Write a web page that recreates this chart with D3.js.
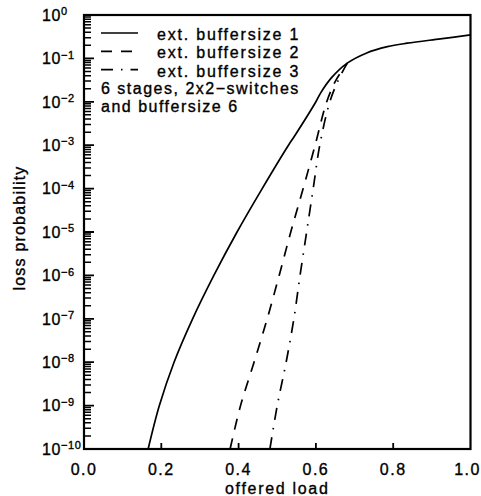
<!DOCTYPE html>
<html>
<head>
<meta charset="utf-8">
<script src="https://cdn.jsdelivr.net/npm/d3@7"></script>
<style>
  body { margin: 0; background: #fff; }
  svg text { font-family: "Liberation Sans", Arial, sans-serif; fill: #000; stroke: #000; stroke-width: 0.35px; }
</style>
</head>
<body>
<svg width="481" height="496"></svg>
<script>
// values: offered load vs. log10(loss probability)
var loadBuf1 = [0.166, 0.195, 0.233, 0.281, 0.336, 0.396, 0.461, 0.529, 0.544, 0.6, 0.612, 0.64, 0.681, 0.73, 0.785, 0.836, 0.922, 1.0];
var logBuf1 = [-10, -9, -8, -7, -6, -5, -4, -3, -2.8, -2, -1.8, -1.45, -1.11, -0.88, -0.73, -0.65, -0.55, -0.46];

var loadBuf2 = [0.378, 0.405, 0.44, 0.474, 0.505, 0.535, 0.567, 0.598, 0.628, 0.652, 0.681];
var logBuf2 = [-10, -9, -8, -7, -6, -5, -4, -3, -2, -1.5, -1.11];

var loadBuf3 = [0.481, 0.5, 0.523, 0.543, 0.559, 0.576, 0.593, 0.61, 0.636, 0.658, 0.681];
var logBuf3 = [-10, -9, -8, -7, -6, -5, -4, -3, -2, -1.5, -1.11];

var xTicks = [0.0, 0.2, 0.4, 0.6, 0.8, 1.0];
var yExponents = [0, -1, -2, -3, -4, -5, -6, -7, -8, -9, -10];

var legendLabels = ['ext. buffersize 1', 'ext. buffersize 2', 'ext. buffersize 3'];
var noteLines = ['6 stages, 2x2\u2212switches', 'and buffersize 6'];

var margin = { top: 15, right: 10.5, bottom: 47, left: 84 };
var width = 481 - margin.left - margin.right;
var height = 496 - margin.top - margin.bottom;

var svg = d3.select('svg');
var g = svg.append('g').attr('transform', 'translate(' + margin.left + ',' + margin.top + ')');

var x = d3.scaleLinear().domain([0, 1]).range([0, width]);
var y = d3.scaleLog().domain([1e-10, 1]).range([height, 0]);

// frame
g.append('rect')
  .attr('x', 0).attr('y', 0)
  .attr('width', width).attr('height', height)
  .attr('fill', 'none')
  .attr('stroke', '#000')
  .attr('stroke-width', 2.2);

// minor log ticks 2..9 in every decade, pointing inward
var minorTicks = [];
for (var e = -10; e < 0; e++) {
  for (var m = 2; m <= 9; m++) minorTicks.push(m * Math.pow(10, e));
}
var majorTicks = yExponents.map(function (p) { return Math.pow(10, p); });

var tickPath = d3.path();
minorTicks.forEach(function (d) {
  tickPath.moveTo(0, y(d));
  tickPath.lineTo(7, y(d));
});
g.append('path')
  .attr('d', tickPath.toString())
  .attr('fill', 'none')
  .attr('stroke', '#000')
  .attr('stroke-width', 1.5);

var majorPath = d3.path();
majorTicks.forEach(function (d) {
  majorPath.moveTo(0, y(d));
  majorPath.lineTo(10, y(d));
});
xTicks.slice(1, -1).forEach(function (d) {
  majorPath.moveTo(x(d), height);
  majorPath.lineTo(x(d), height - 6);
});
g.append('path')
  .attr('d', majorPath.toString())
  .attr('fill', 'none')
  .attr('stroke', '#000')
  .attr('stroke-width', 1.8);

// y labels: 10 with superscript exponent
var yLab = g.append('g').selectAll('text')
  .data(yExponents)
  .join('text')
  .attr('x', -42)
  .attr('y', function (p) { return y(Math.pow(10, p)); })
  .attr('dy', '0.36em')
  .attr('font-size', 16)
  .attr('letter-spacing', 0.6)
  .text('10');
yLab.append('tspan')
  .attr('dy', '-0.5em')
  .attr('font-size', 11)
  .text(function (p) { return p === 0 ? '0' : '\u2212' + Math.abs(p); });

// x labels
g.append('g').selectAll('text')
  .data(xTicks)
  .join('text')
  .attr('x', function (d) { return x(d); })
  .attr('dx', function (d) { return d === 1 ? -3 : 0; })
  .attr('y', height + 26)
  .attr('text-anchor', 'middle')
  .attr('font-size', 16)
  .attr('letter-spacing', 1.5)
  .text(d3.format('.1f'));

var series = [
  { load: loadBuf1, logp: logBuf1, dash: null },
  { load: loadBuf2, logp: logBuf2, dash: '11,9' },
  { load: loadBuf3, logp: logBuf3, dash: '12,8,1.5,8' }
];

var line = d3.line()
  .x(function (d) { return x(d[0]); })
  .y(function (d) { return y(Math.pow(10, d[1])); })
  .curve(d3.curveCatmullRom.alpha(0.5));

series.forEach(function (s) {
  g.append('path')
    .datum(d3.zip(s.load, s.logp))
    .attr('fill', 'none')
    .attr('stroke', '#000')
    .attr('stroke-width', 1.7)
    .attr('stroke-dasharray', s.dash)
    .attr('d', line);
});

// legend
var legend = g.append('g').attr('transform', 'translate(17,18)');
legendLabels.forEach(function (lab, i) {
  legend.append('line')
    .attr('x1', 0).attr('x2', 37)
    .attr('y1', i * 18.3).attr('y2', i * 18.3)
    .attr('stroke', '#000')
    .attr('stroke-width', 1.7)
    .attr('stroke-dasharray', series[i].dash);
  legend.append('text')
    .attr('x', 56).attr('y', i * 18.3 + 7)
    .attr('font-size', 16)
    .attr('letter-spacing', 1.8)
    .text(lab);
});
noteLines.forEach(function (t, i) {
  legend.append('text')
    .attr('x', 0).attr('y', 61 + i * 17.7)
    .attr('font-size', 16)
    .attr('letter-spacing', 1.5)
    .text(t);
});

svg.append('text')
  .attr('x', margin.left + width / 2)
  .attr('y', 494)
  .attr('text-anchor', 'middle')
  .attr('font-size', 16)
  .attr('letter-spacing', 1.7)
  .text('offered load');

svg.append('text')
  .attr('transform', 'translate(25,228) rotate(-90)')
  .attr('text-anchor', 'middle')
  .attr('font-size', 16)
  .attr('letter-spacing', 1.2)
  .text('loss probability');
</script>
</body>
</html>
